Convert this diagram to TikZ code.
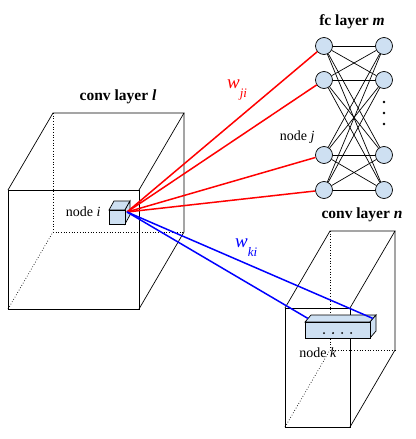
\documentclass[tikz,border=0pt]{standalone}
\usepackage{fontspec}
\setmainfont{Liberation Serif}
\definecolor{cellblue}{RGB}{206,224,242}
\tikzset{
  wire/.style={line width=0.7pt},
  hidden/.style={line width=0.7pt, dotted},
  cell/.style={line width=0.7pt, fill=cellblue},
  neuron/.style={circle, draw, line width=0.7pt, fill=cellblue, minimum size=17pt, inner sep=0pt},
  redlink/.style={red, line width=1.5pt},
  bluelink/.style={blue, line width=1.5pt},
  layername/.style={font=\fontsize{15.5}{18}\selectfont\bfseries},
  nodename/.style={font=\fontsize{14}{16}\selectfont},
  weightname/.style={anchor=base west, inner sep=0pt, font=\fontsize{19}{22}\selectfont\itshape},
}
\newcommand\wsub[1]{\raisebox{-9pt}{\fontsize{13}{15}\selectfont #1}}
\begin{document}
\begin{tikzpicture}[x=1pt,y=-1pt]
\useasboundingbox (0,0) rectangle (415,439);
% conv layer l
\coordinate (lA) at (8,190);
\coordinate (lB) at (139,190);
\coordinate (lC) at (139,309);
\coordinate (lD) at (8,309);
\coordinate (lE) at (53,113);
\coordinate (lF) at (184,113);
\coordinate (lG) at (184,232);
\coordinate (lH) at (53,232);
\draw[hidden] (lE) -- (lH) -- (lG);
\draw[hidden] (lD) -- (lH);
\draw[wire] (lA) -- (lB) -- (lC) -- (lD) -- cycle;
\draw[wire] (lA) -- (lE) -- (lF) -- (lB);
\draw[wire] (lF) -- (lG) -- (lC);
\node[layername] (lname) at (118,97) {conv layer \textit{l}};
% node i
\draw[cell] (109,210) -- (114,201) -- (130,201) -- (125,210) -- cycle;
\draw[cell] (125,210) -- (130,201) -- (130,215) -- (125,224) -- cycle;
\draw[cell] (109,210) rectangle (125,224);
\coordinate (ni) at (127,212);
\node[nodename, anchor=east] (iname) at (104,212) {node \textit{i}};
% fc layer m
\foreach \k/\y in {1/46,2/80,3/155,4/190}{
  \node[neuron] (m\k) at (324,\y) {};
  \node[neuron] (r\k) at (384,\y) {};
}
\foreach \a in {1,...,4}
  \foreach \b in {1,...,4}
    \draw[wire] (m\a) -- (r\b);
\foreach \y in {102,113,124}
  \fill (384,\y) circle (1.3pt);
\node[layername] (mname) at (352,22) {fc layer \textit{m}};
\node[nodename, anchor=east] (jname) at (318,137) {node \textit{j}};
\foreach \k in {1,...,4}
  \draw[redlink] (ni) -- (m\k);
\node[red, weightname] (wji) at (227,88) {w\wsub{ji}};
% conv layer n
\coordinate (nA) at (285,308);
\coordinate (nB) at (350,308);
\coordinate (nC) at (350,427);
\coordinate (nD) at (285,427);
\coordinate (nE) at (330,231);
\coordinate (nF) at (395,231);
\coordinate (nG) at (395,350);
\coordinate (nH) at (330,350);
\draw[hidden] (nE) -- (nH) -- (nG);
\draw[hidden] (nD) -- (nH);
\draw[wire] (nA) -- (nB) -- (nC) -- (nD) -- cycle;
\draw[wire] (nA) -- (nE) -- (nF) -- (nB);
\draw[wire] (nF) -- (nG) -- (nC);
\node[layername] (nname) at (362,215) {conv layer \textit{n}};
% node k
\draw[cell] (305,322) -- (311,315) -- (376,315) -- (370,322) -- cycle;
\draw[cell] (370,322) -- (376,315) -- (376,331) -- (370,338) -- cycle;
\draw[cell] (305,322) rectangle (370,338);
\foreach \x in {324,333,342,351}
  \fill (\x,333) circle (1pt);
\coordinate (kL) at (308,318.5);
\coordinate (kR) at (373,318.5);
\node[nodename] (kname) at (318,353) {node \textit{k}};
\draw[bluelink] (ni) -- (kL);
\draw[bluelink] (ni) -- (kR);
\node[blue, weightname] (wki) at (235,247) {w\wsub{ki}};
\end{tikzpicture}
\end{document}
